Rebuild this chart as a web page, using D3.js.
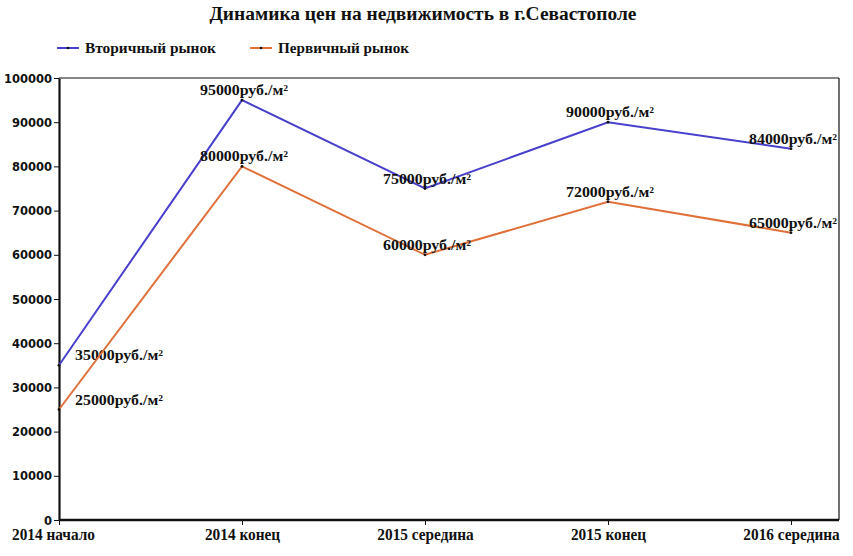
<!DOCTYPE html>
<html>
<head>
<meta charset="utf-8">
<script src="https://cdn.jsdelivr.net/npm/d3@7"></script>
<style>
  body { margin: 0; background: #fff; }
</style>
</head>
<body>
<script>
const categories = ['2014 начало', '2014 конец', '2015 середина', '2015 конец', '2016 середина']
const secondary = [35000, 95000, 75000, 90000, 84000]
const primary = [25000, 80000, 60000, 72000, 65000]
const yTicks = [0, 10000, 20000, 30000, 40000, 50000, 60000, 70000, 80000, 90000, 100000]
const seriesNames = ['Вторичный рынок', 'Первичный рынок']
const unit = 'руб./м²'

const outerWidth = 853
const outerHeight = 556
const margin = { left: 59, top: 78, right: 14, bottom: 36 }
const innerWidth = outerWidth - margin.left - margin.right
const innerHeight = outerHeight - margin.top - margin.bottom

// colors
const blue = '#4840cc'
const orange = '#e0703a'
const ink = '#111111'
const serif = '"Liberation Serif", "Times New Roman", serif'

const svg = d3.select('body')
  .append('svg')
  .attr('width', outerWidth)
  .attr('height', outerHeight)

// squeeze text to a given width, the picture uses a narrow bold face
function fit(sel, w) {
  sel.attr('textLength', w).attr('lengthAdjust', 'spacingAndGlyphs')
}

svg.append('text')
  .attr('x', 423)
  .attr('y', 20)
  .attr('text-anchor', 'middle')
  .style('font-family', serif)
  .style('font-weight', 'bold')
  .style('font-size', '18px')
  .style('fill', ink)
  .text('Динамика цен на недвижимость в г.Севастополе')
  .call(fit, 427)

// legend
const legend = svg.append('g').attr('transform', 'translate(57,48)')
const legendItems = legend.selectAll('g')
  .data(seriesNames)
  .enter()
  .append('g')
  .attr('transform', (d, i) => `translate(${i * 193},0)`)

legendItems.append('line')
  .attr('x1', 0).attr('x2', 22)
  .attr('y1', 0).attr('y2', 0)
  .style('stroke', (d, i) => i === 0 ? blue : orange)
  .style('stroke-width', 2)
legendItems.append('circle')
  .attr('cx', 11).attr('cy', 0).attr('r', 1.3)
  .style('fill', ink)
legendItems.append('text')
  .attr('x', 28)
  .attr('y', 5)
  .style('font-family', serif)
  .style('font-weight', 'bold')
  .style('font-size', '14px')
  .style('fill', ink)
  .text(d => d)
  .call(fit, 131)

const g = svg.append('g')
  .attr('transform', `translate(${margin.left},${margin.top})`)

const xScale = d3.scalePoint()
  .domain(categories)
  .range([0, 4 * 183])

const yScale = d3.scaleLinear()
  .domain([0, 100000])
  .range([innerHeight, 0])

// frame: thin top and right
g.append('line')
  .attr('x1', 0).attr('x2', innerWidth)
  .attr('y1', 0).attr('y2', 0)
  .style('stroke', ink).style('stroke-width', 1.2)
g.append('line')
  .attr('x1', innerWidth).attr('x2', innerWidth)
  .attr('y1', 0).attr('y2', innerHeight)
  .style('stroke', ink).style('stroke-width', 1.2)

const yAxisG = g.append('g')
  .call(d3.axisLeft(yScale).tickValues(yTicks).tickSize(5).tickSizeOuter(0).tickFormat(d => d))
yAxisG.select('.domain').style('stroke', ink).style('stroke-width', 2.2)
yAxisG.selectAll('.tick line').style('stroke', ink)
yAxisG.selectAll('.tick text')
  .attr('x', -7)
  .attr('dy', '0.36em')
  .style('font-family', '"DejaVu Sans", Verdana, sans-serif')
  .style('font-weight', 'bold')
  .style('font-size', '11.5px')
  .style('fill', ink)

const xAxisG = g.append('g')
  .attr('transform', `translate(0,${innerHeight})`)
  .call(d3.axisBottom(xScale).tickSize(5).tickSizeOuter(0))
xAxisG.select('.domain').attr('d', `M0,0H${innerWidth}`).style('stroke', ink).style('stroke-width', 2.6)
xAxisG.selectAll('.tick line').style('stroke', ink)
xAxisG.selectAll('.tick text')
  .attr('y', 8)
  .attr('dy', '0.71em')
  .attr('x', (d, i) => i === 0 ? -6 : 0)
  .style('font-family', serif)
  .style('font-weight', 'bold')
  .style('font-size', '17px')
  .style('fill', ink)
  .each(function () {
    d3.select(this).call(fit, this.getComputedTextLength() * 0.9)
  })

const series = [
  { name: seriesNames[0], values: secondary, color: blue },
  { name: seriesNames[1], values: primary, color: orange }
]

const line = d3.line()
  .x((d, i) => xScale(categories[i]))
  .y(d => yScale(d))

series.forEach(s => {
  g.append('path')
    .datum(s.values)
    .attr('d', line)
    .style('fill', 'none')
    .style('stroke', s.color)
    .style('stroke-width', 2)

  g.selectAll(null)
    .data(s.values)
    .enter()
    .append('circle')
    .attr('cx', (d, i) => xScale(categories[i]))
    .attr('cy', d => yScale(d))
    .attr('r', 1.4)
    .style('fill', ink)

  g.selectAll(null)
    .data(s.values)
    .enter()
    .append('text')
    .attr('x', (d, i) => i === 0 ? xScale(categories[i]) + 16 : xScale(categories[i]) + 2)
    .attr('y', d => yScale(d) - 5)
    .attr('text-anchor', (d, i) => i === 0 ? 'start' : 'middle')
    .style('font-family', serif)
    .style('font-weight', 'bold')
    .style('font-size', '14px')
    .style('fill', ink)
    .text(d => d + unit)
    .call(fit, 88)
})
</script>
</body>
</html>
